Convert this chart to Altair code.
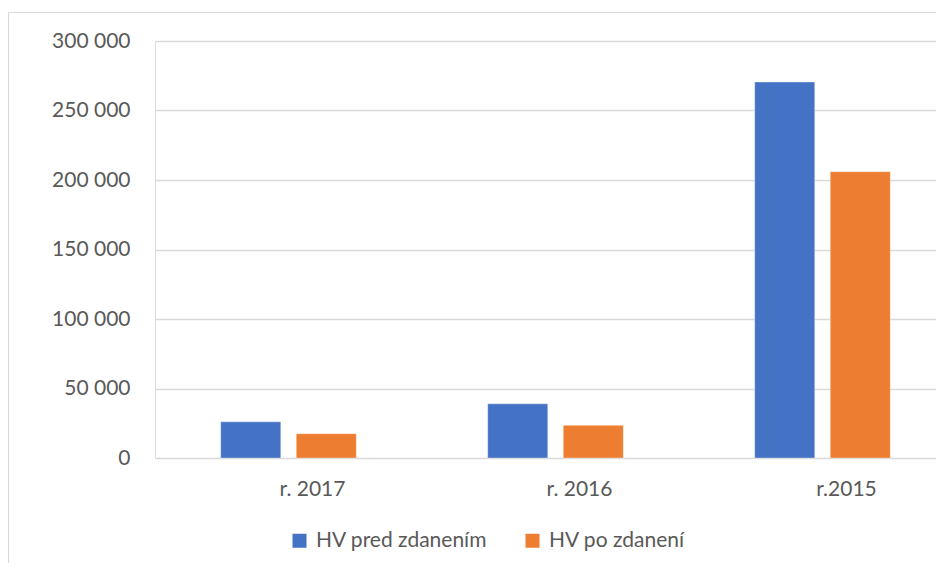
import altair as alt
import pandas as pd

categories = ["r. 2017", "r. 2016", "r.2015"]
series_names = ["HV pred zdanením", "HV po zdanení"]
hv_pred = [26000, 39000, 270500]
hv_po = [17500, 23500, 206000]
colors = ["#4472C4", "#ED7D31"]
y_ticks = [0, 50000, 100000, 150000, 200000, 250000, 300000]

rows = []
for i, c in enumerate(categories):
    rows.append({"rok": c, "serie": series_names[0], "hodnota": hv_pred[i]})
    rows.append({"rok": c, "serie": series_names[1], "hodnota": hv_po[i]})
df = pd.DataFrame(rows)

FONT = "Lato"
TXT = "#595959"

bars = alt.Chart(df).mark_bar(
    stroke="#ffffff", strokeWidth=0.8, strokeOpacity=0.45
).encode(
    x=alt.X(
        "rok:N",
        sort=categories,
        scale=alt.Scale(range=[0, 801], paddingInner=0, paddingOuter=0),
        axis=alt.Axis(
            title=None, domain=False, ticks=False, tickSize=0, grid=False,
            labelAngle=0, labelFont=FONT, labelFontSize=21, labelColor=TXT,
            labelPadding=20, labelOffset=24,
        ),
    ),
    xOffset=alt.XOffset(
        "serie:N", sort=series_names,
        scale=alt.Scale(paddingInner=0.205, paddingOuter=0.87),
    ),
    y=alt.Y(
        "hodnota:Q",
        scale=alt.Scale(domain=[0, 300000], nice=False),
        axis=alt.Axis(
            title=None, domain=False, ticks=False, tickSize=0, values=y_ticks,
            grid=True, gridColor="#d9d9d9", gridWidth=1.5,
            labelFont=FONT, labelFontSize=21, labelColor=TXT, labelPadding=25,
            labelExpr="replace(format(datum.value, ','), regexp(',', 'g'), ' ')",
        ),
    ),
    color=alt.Color(
        "serie:N", sort=series_names,
        scale=alt.Scale(domain=series_names, range=colors),
        legend=alt.Legend(
            orient="none", legendX=134, legendY=489, direction="horizontal",
            title=None, symbolType="square", symbolSize=196, symbolStrokeWidth=0,
            labelFont=FONT, labelFontSize=21, labelColor=TXT, labelOffset=6,
            labelLimit=400, columnPadding=34,
        ),
    ),
)

frame_df = pd.DataFrame({"f": [0]})
frame = alt.Chart(frame_df).mark_rect(
    fill=None, stroke="#d9d9d9", strokeWidth=1.2
).encode(
    x=alt.value(-146.5), x2=alt.value(820),
    y=alt.value(-28.5), y2=alt.value(600),
)

chart = alt.layer(frame, bars).properties(
    width=781, height=417,
    padding={"left": 147, "top": 33, "right": 0, "bottom": 105},
    autosize=alt.AutoSizeParams(type="none"),
).configure_view(stroke=None).configure(background="#ffffff")

chart.save("out.html", embed_options={"renderer": "svg", "actions": False})
